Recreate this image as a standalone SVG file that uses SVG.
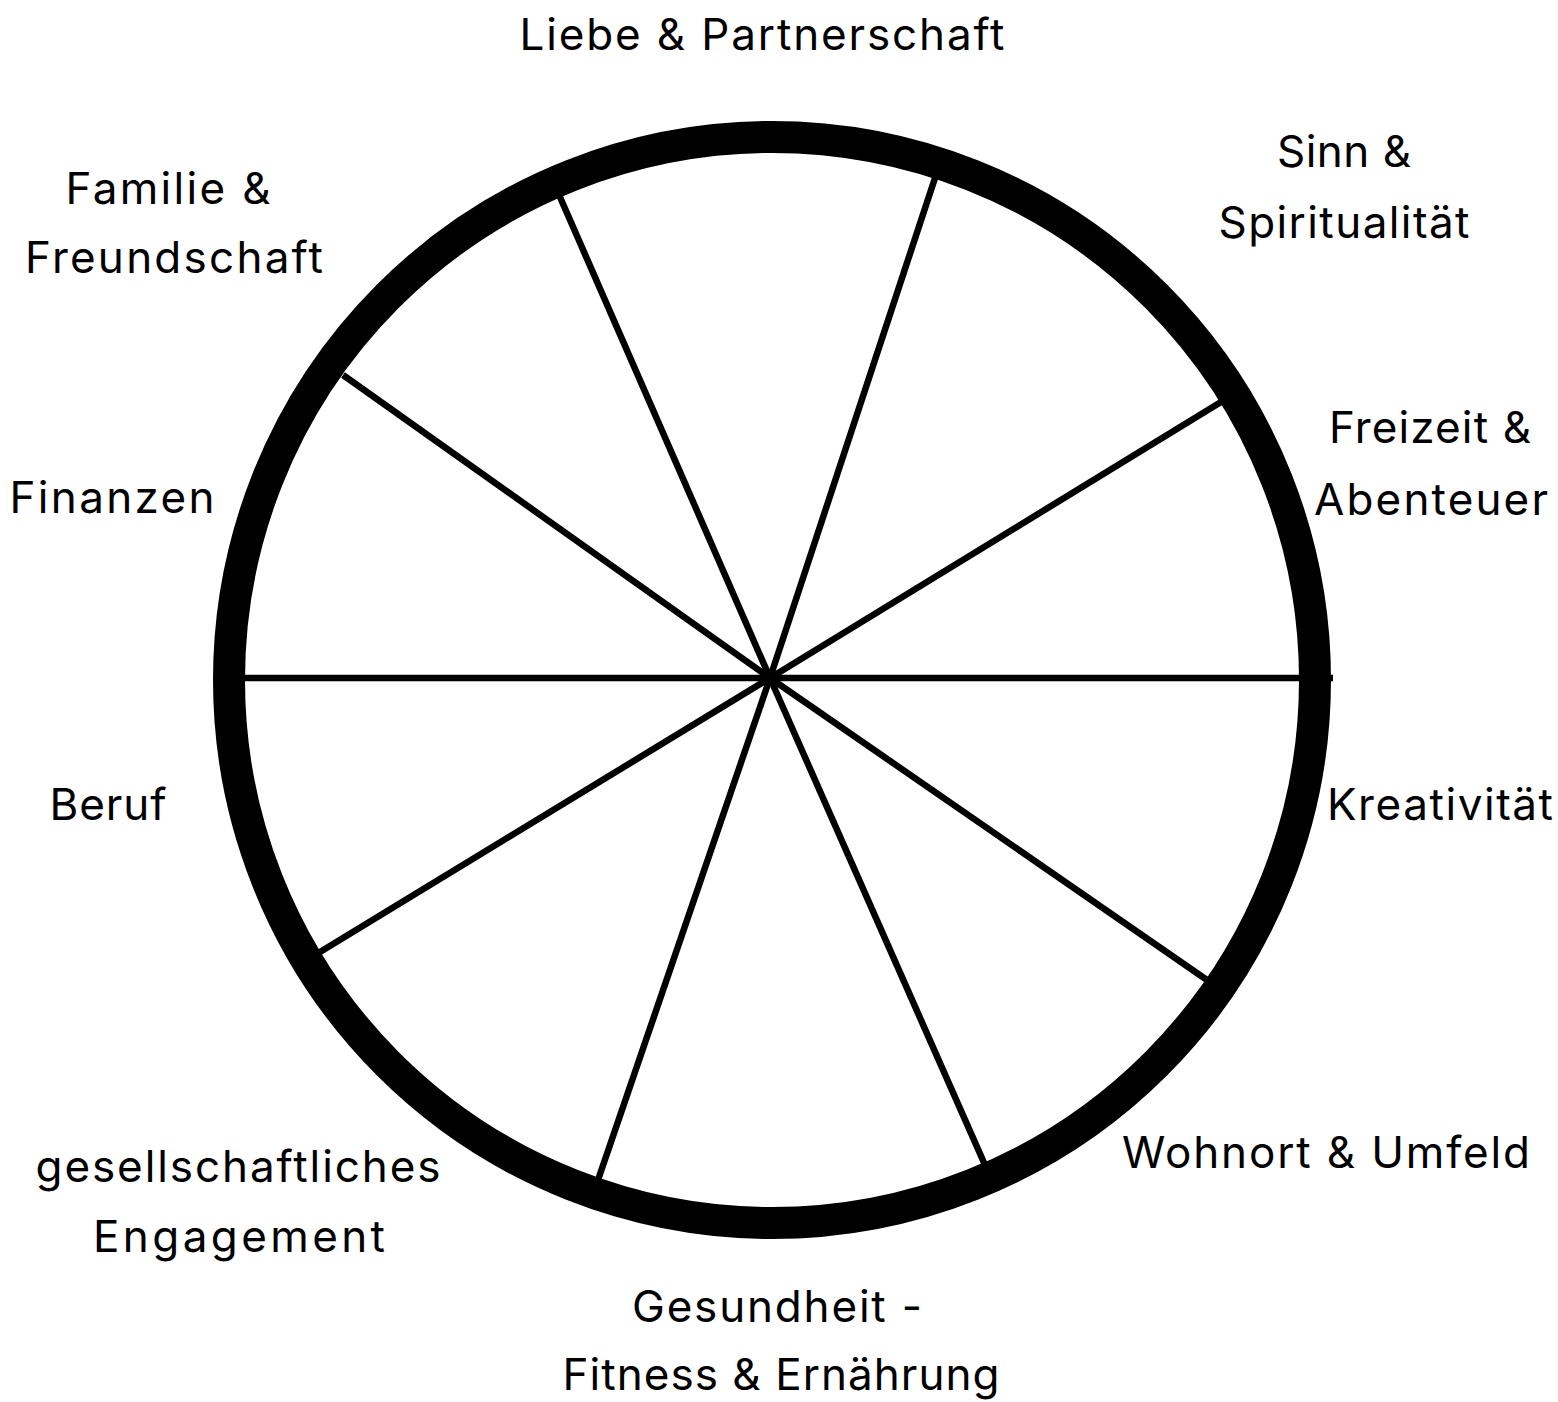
<svg xmlns="http://www.w3.org/2000/svg" width="1558" height="1402" viewBox="0 0 1558 1402">
<style>
.t{font-family:"Inter","Lato","Liberation Sans",sans-serif;font-size:44px;font-weight:400;fill:#000;text-anchor:middle}
.s{stroke:#000;stroke-width:6.5;fill:none}
</style>
<rect width="1558" height="1402" fill="#fff"/>
<g id="wheel">
<circle cx="772" cy="680" r="543" fill="none" stroke="#000" stroke-width="32"/>
</g>
<g id="connectors" class="s">
<line x1="770" y1="678" x2="935" y2="178"/>
<line x1="770" y1="678" x2="1221" y2="402"/>
<line x1="770" y1="678" x2="1333" y2="678"/>
<line x1="770" y1="678" x2="1207" y2="980"/>
<line x1="770" y1="678" x2="985" y2="1165"/>
<line x1="770" y1="678" x2="598" y2="1180"/>
<line x1="770" y1="678" x2="320" y2="952"/>
<line x1="770" y1="678" x2="245" y2="678"/>
<line x1="770" y1="678" x2="343" y2="375"/>
<line x1="770" y1="678" x2="560" y2="197"/>
</g>
<g id="n1"><text class="t" x="762" y="50" textLength="485" lengthAdjust="spacing">Liebe &amp; Partnerschaft</text></g>
<g id="n2"><text class="t" x="1344" y="167" textLength="134" lengthAdjust="spacing">Sinn &amp;</text><text class="t" x="1344" y="238" textLength="251" lengthAdjust="spacing">Spiritualität</text></g>
<g id="n3"><text class="t" x="1430" y="443" textLength="202" lengthAdjust="spacing">Freizeit &amp;</text><text class="t" x="1431" y="515" textLength="234" lengthAdjust="spacing">Abenteuer</text></g>
<g id="n4"><text class="t" x="1327" y="820" style="text-anchor:start" textLength="226" lengthAdjust="spacing">Kreativität</text></g>
<g id="n5"><text class="t" x="1326" y="1168" textLength="408" lengthAdjust="spacing">Wohnort &amp; Umfeld</text></g>
<g id="n6"><text class="t" x="777" y="1322" textLength="290" lengthAdjust="spacing">Gesundheit -</text><text class="t" x="781" y="1390" textLength="437" lengthAdjust="spacing">Fitness &amp; Ernährung</text></g>
<g id="n7"><text class="t" x="238" y="1182" textLength="405" lengthAdjust="spacing">gesellschaftliches</text><text class="t" x="239" y="1252" textLength="292" lengthAdjust="spacing">Engagement</text></g>
<g id="n8"><text class="t" x="108" y="820" textLength="117" lengthAdjust="spacing">Beruf</text></g>
<g id="n9"><text class="t" x="112" y="513" textLength="205" lengthAdjust="spacing">Finanzen</text></g>
<g id="n10"><text class="t" x="168" y="204" textLength="205" lengthAdjust="spacing">Familie &amp;</text><text class="t" x="174" y="273" textLength="298" lengthAdjust="spacing">Freundschaft</text></g>
</svg>
